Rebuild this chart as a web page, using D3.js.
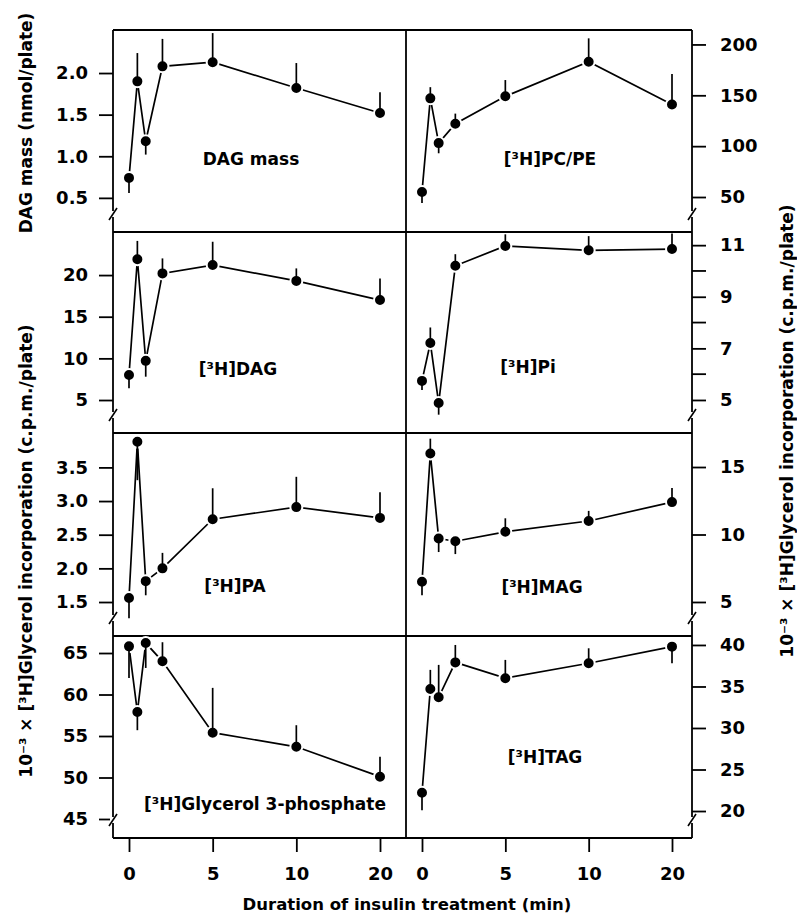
<!DOCTYPE html>
<html><head><meta charset="utf-8">
<script src="https://cdn.jsdelivr.net/npm/d3@7"></script>
<style>
body{margin:0;background:#fff}
text{font-family:"DejaVu Sans",sans-serif;font-weight:bold;fill:#000}
</style>
</head><body><svg id="c" width="797" height="915"></svg>
<script>
// ---- data ----
const times = [0, 0.5, 1, 2, 5, 10, 20];
const xTicks = [0, 5, 10, 20];

const dagMass    = [0.74, 1.90, 1.18, 2.08, 2.13, 1.82, 1.52];
const dagMassErr = [-0.18, 0.34, -0.16, 0.33, 0.35, 0.30, 0.25];
const pcpe       = [55, 147, 103, 122, 149, 183, 141];
const pcpeErr    = [-11, 11, -10, 10, 16, 23, 30];
const h3dag      = [8.0, 21.9, 9.7, 20.2, 21.2, 19.3, 17.0];
const h3dagErr   = [-1.6, 2.2, -1.9, 1.8, 2.8, 1.5, 2.6];
const pi         = [5.74, 7.21, 4.88, 10.2, 10.97, 10.8, 10.85];
const piErr      = [-0.35, 0.6, -0.45, 0.45, 0.45, 0.55, 0.6];
const pa         = [1.56, 3.88, 1.81, 2.0, 2.73, 2.91, 2.75];
const paErr      = [-0.30, -0.57, -0.21, 0.23, 0.46, 0.45, 0.38];
const mag        = [6.5, 16.0, 9.7, 9.5, 10.2, 11.0, 12.4];
const magErr     = [-1.0, 1.1, -1.0, -0.95, 1.0, 0.75, 1.05];
const g3p        = [65.8, 57.9, 66.2, 64.0, 55.4, 53.7, 50.1];
const g3pErr     = [-3.8, -2.2, -3.0, 2.3, 5.4, 2.6, 2.4];
const tag        = [22.2, 34.7, 33.7, 37.9, 36.0, 37.8, 39.8];
const tagErr     = [-2.1, 2.3, 3.9, 2.1, 2.2, 1.8, -2.0];

const dagMassTicks = [0.5, 1.0, 1.5, 2.0];
const pcpeTicks    = [50, 100, 150, 200];
const h3dagTicks   = [5, 10, 15, 20];
const piTicks      = [5, 7, 9, 11];
const piMinor      = [6, 8, 10];
const paTicks      = [1.5, 2.0, 2.5, 3.0, 3.5];
const magTicks     = [5, 10, 15];
const g3pTicks     = [45, 50, 55, 60, 65];
const tagTicks     = [20, 25, 30, 35, 40];

const labels = ["DAG mass", "[³H]PC/PE", "[³H]DAG", "[³H]Pi", "[³H]PA", "[³H]MAG", "[³H]Glycerol 3-phosphate", "[³H]TAG"];
const xTitle = "Duration of insulin treatment (min)";
const yTitleTop = "DAG mass (nmol/plate)";
const yTitleGly = "10⁻³ × [³H]Glycerol incorporation (c.p.m./plate)";

// ---- layout ----
const rowTop = [30, 232, 433, 636], rowBot = [232, 433, 636, 838];
const colLeft = [113, 406], colRight = [406, 692];
const xRange = [[129, 380], [422, 672]];

const panels = [
  {c:0, r:0, v:dagMass, e:dagMassErr, dom:[0.09, 2.517], ticks:dagMassTicks, fmt:d3.format(".1f"), lab:[251,165]},
  {c:1, r:0, v:pcpe, e:pcpeErr, dom:[15.6, 214.2], ticks:pcpeTicks, fmt:d3.format("d"), lab:[550,165]},
  {c:0, r:1, v:h3dag, e:h3dagErr, dom:[1.04, 25.17], ticks:h3dagTicks, fmt:d3.format("d"), lab:[238,375]},
  {c:1, r:1, v:pi, e:piErr, dom:[3.72, 11.51], ticks:piTicks, minor:piMinor, fmt:d3.format("d"), lab:[528,373]},
  {c:0, r:2, v:pa, e:paErr, dom:[0.995, 4.011], ticks:paTicks, fmt:d3.format(".1f"), lab:[235,592]},
  {c:1, r:2, v:mag, e:magErr, dom:[2.48, 17.52], ticks:magTicks, fmt:d3.format("d"), lab:[542,593]},
  {c:0, r:3, v:g3p, e:g3pErr, dom:[42.71, 67.05], ticks:g3pTicks, fmt:d3.format("d"), lab:[265,810]},
  {c:1, r:3, v:tag, e:tagErr, dom:[16.75, 41.08], ticks:tagTicks, fmt:d3.format("d"), lab:[545,763]},
];

const svg = d3.select("#c");
const black = "#000";

function xScale(c){
  const [a,b] = xRange[c], w = b - a;
  return d3.scaleLinear().domain([0,5,10,20]).range([a, a + w/3, a + 2*w/3, b]);
}

// frame lines
const frame = svg.append("g");
const L = colLeft[0], R = colRight[1], M = colLeft[1];
[30, 232, 433, 636, 838].forEach(yy => {
  frame.append("line").attr("x1", L).attr("x2", R).attr("y1", yy).attr("y2", yy)
    .attr("stroke", black).attr("stroke-width", 1.8);
});
[L, M, R].forEach(xx => {
  frame.append("line").attr("x1", xx).attr("x2", xx).attr("y1", 30).attr("y2", 838)
    .attr("stroke", black).attr("stroke-width", 1.8);
});

panels.forEach((p, i) => {
  const x = xScale(p.c);
  const y = d3.scaleLinear().domain(p.dom).range([rowBot[p.r], rowTop[p.r]]);
  const g = svg.append("g");

  // axis
  const axX = p.c === 0 ? colLeft[0] : colRight[1];
  const ax = (p.c === 0 ? d3.axisLeft(y) : d3.axisRight(y))
    .tickValues(p.ticks).tickFormat(p.fmt).tickSize(14).tickPadding(p.c === 0 ? 11 : 14);
  const ag = g.append("g").attr("transform", `translate(${axX},0)`).call(ax);
  ag.select(".domain").remove();
  ag.selectAll(".tick line").attr("stroke", black).attr("stroke-width", 1.8);
  ag.selectAll(".tick text").style("font-size", "18px").attr("fill", black)
    .style("font-family", "DejaVu Sans").style("font-weight", "bold");
  if (p.minor) {
    g.selectAll(".minor").data(p.minor).join("line")
      .attr("x1", axX).attr("x2", axX + 14)
      .attr("y1", d => y(d)).attr("y2", d => y(d))
      .attr("stroke", black).attr("stroke-width", 1.8);
  }

  // line
  const pts = times.map((t, k) => [t, p.v[k], p.e[k]]);
  g.append("path").datum(pts)
    .attr("d", d3.line().x(d => x(d[0])).y(d => y(d[1])))
    .attr("fill", "none").attr("stroke", black).attr("stroke-width", 1.7);
  // dots with white halo
  g.selectAll(".dot").data(pts).join("circle")
    .attr("cx", d => x(d[0])).attr("cy", d => y(d[1])).attr("r", 6)
    .attr("fill", black).attr("stroke", "#fff").attr("stroke-width", 2);
  // error bars
  g.selectAll(".err").data(pts).join("line")
    .attr("x1", d => x(d[0])).attr("x2", d => x(d[0]))
    .attr("y1", d => y(d[1])).attr("y2", d => y(d[1] + d[2]))
    .attr("stroke", black).attr("stroke-width", 1.7);

  // label
  g.append("text").attr("x", p.lab[0]).attr("y", p.lab[1])
    .attr("text-anchor", "middle").style("font-size", "17px").text(labels[i]);

  // axis break
  const by = rowBot[p.r] - 18;
  g.append("rect").attr("x", axX - 3).attr("y", by - 3).attr("width", 6).attr("height", 6).attr("fill", "#fff");
  g.append("path").attr("d", `M${axX-4},${by+6} L${axX+4},${by-6}`)
    .attr("stroke", black).attr("stroke-width", 1.6).attr("fill", "none");
});

// bottom x axes
[0, 1].forEach(c => {
  const ag = svg.append("g").attr("transform", "translate(0,838)")
    .call(d3.axisBottom(xScale(c)).tickValues(xTicks).tickSize(14).tickPadding(15).tickFormat(d3.format("d")));
  ag.select(".domain").remove();
  ag.selectAll(".tick line").attr("stroke", black).attr("stroke-width", 1.8);
  ag.selectAll(".tick text").style("font-size", "18px").attr("fill", black)
    .style("font-family", "DejaVu Sans").style("font-weight", "bold");
});

// titles
svg.append("text").attr("x", 407).attr("y", 910).attr("text-anchor", "middle")
  .style("font-size", "16.5px").text(xTitle);
svg.append("text").attr("transform", "translate(32,123) rotate(-90)").attr("text-anchor", "middle")
  .style("font-size", "17px").text(yTitleTop);
svg.append("text").attr("transform", "translate(32,551) rotate(-90)").attr("text-anchor", "middle")
  .style("font-size", "17px").text(yTitleGly);
svg.append("text").attr("transform", "translate(793,431) rotate(-90)").attr("text-anchor", "middle")
  .style("font-size", "17px").text(yTitleGly);
</script></body></html>
